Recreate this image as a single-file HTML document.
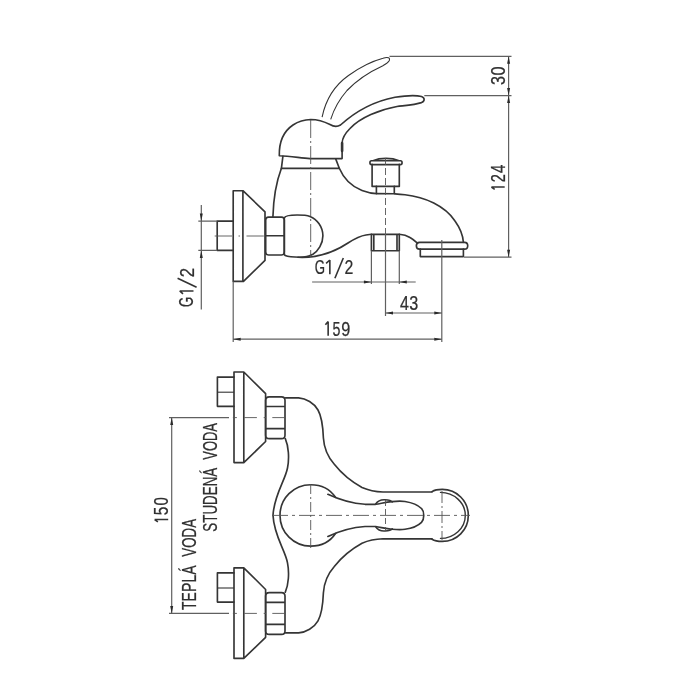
<!DOCTYPE html>
<html><head><meta charset="utf-8">
<style>
html,body{margin:0;padding:0;background:#fff;}
svg{display:block;will-change:transform;}
text{font-family:"Liberation Sans",sans-serif;fill:#303030;stroke:#303030;stroke-width:0.25;font-size:21px;}
.o{fill:none;stroke:#353535;stroke-width:1.65;stroke-linejoin:round;stroke-linecap:round;}
.t{fill:none;stroke:#333;stroke-width:1.1;}
.d{fill:none;stroke:#606060;stroke-width:1.2;}
.c{fill:none;stroke:#555;stroke-width:0.9;}
.a{fill:#2a2a2a;stroke:none;}
.tx{fill:none;stroke:#333;stroke-width:1.6;stroke-linecap:butt;stroke-linejoin:round;}
</style></head>
<body>
<svg width="700" height="700" viewBox="0 0 700 700" xmlns="http://www.w3.org/2000/svg">
<rect width="700" height="700" fill="#fff"/>

<!-- ===== TOP VIEW (elevation) ===== -->
<!-- ghost lever -->
<path class="t" d="M322.1,117.1 C325,103 333,86.5 348.5,75.5 C359,68 371,61.5 383,58.3 C388,56.5 390.5,58 389.2,60.8 C388,63 385,64.5 382.9,65.7 C367,73 355,82 347,90.5 C340,98.5 334,109 330.7,119.3"/>

<!-- dome + lever -->
<path class="o" d="M279.3,155.7 C279,142 284,131 293,125 C299,121 305,119.6 310.7,119.5 C318,119.6 325,122 330,124.5 C333,126.3 337,127 340.5,125 C352,114.5 370,102 395,97.2 C406,95.5 417,95.3 421.5,96.5 C425,97.7 425,101.3 421.5,102.6 C415,104.8 405,105.5 397,106.5 C380,109.5 360,117.5 350,128.5 C345,133.5 342.3,138 342.1,143 L342.1,158.6 L310,158.6 C300,157.8 290,156.2 279.3,155.7 Z"/>
<path class="o" d="M342.1,143 L342.1,151" style="stroke-width:2.6"/>
<!-- collar -->
<path class="o" d="M282.9,156.4 L281.4,168.3 L339.3,168.3 L335.7,158.9"/>
<!-- body left edge -->
<path class="o" d="M281.4,168.3 C277,180 273.5,195 272.9,217"/>
<!-- body right/top spout edge -->
<path class="o" d="M339.3,168.3 C343,177 350,186 362,190.5 C366,192 370,193.4 376.4,193.6 L394.3,193.8 C397,194 400,194.2 405,194.8 C425,197 445,206 455,221 C460,228 463,236 463.4,242.3"/>

<!-- diverter knob -->
<path class="o" d="M371.5,160.7 L400.5,160.7 C402.6,160.7 402.6,164.6 400.5,164.6 L371.5,164.6 C369.4,164.6 369.4,160.7 371.5,160.7 Z M373,160.7 C377,158.9 381,158.3 386,158.3 C391,158.3 395,158.9 399,160.7"/>
<path class="o" d="M372.1,164.4 L372.1,186.4 L399.3,186.4 L399.3,164.4"/>
<path class="o" d="M376.4,186.4 L376.4,193.6 M394.3,186.4 L394.3,193.6"/>

<!-- ball joint -->
<path class="o" d="M284.3,218 C285,215.6 292,215 297.1,215 C303,215 307,215.3 310,216.4 C317,219 322.9,227 322.9,235.7 C322.9,244 318,251 312.9,254.3 C309,256.6 305,257.2 300,257.2 C293,257.2 288,256.8 285.2,255.6 C284.5,255.2 284.3,254.5 284.3,253 Z"/>
<!-- hex nut -->
<path class="o" d="M268.5,217.1 L281.5,217.1 Q284.3,217.1 284.3,220 L284.3,252 Q284.3,255 281.5,255 L268.5,255 Q265.7,255 265.7,252 L265.7,220 Q265.7,217.1 268.5,217.1 Z M265.7,235.7 L284.3,235.7"/>
<!-- flange -->
<path class="o" d="M233.2,190.7 L242.9,190.7 L265,211.8 L265,260.4 L243.5,281.4 L233.2,281.4 Z M242.9,190.7 L242.9,281.4"/>
<!-- pipe stub -->
<path class="o" d="M233.2,221.1 L217.2,221.1 L217.2,250.4 L233.2,250.4"/>

<!-- body bottom curve -->
<path class="o" d="M298,257.3 C316,258.2 333,253 348,243 C355,238.5 361,235.7 366,235 L371.4,234.3"/>
<path class="o" d="M399.3,234.3 C403,234.5 407,235.6 410,237.5 C412.5,239 414.5,240.5 416.5,242.3"/>
<!-- shower outlet -->
<path class="o" d="M371.4,234.3 L399.3,234.3 L399.3,250.7 L371.4,250.7 Z M373.8,234.3 L373.8,250.7 M397,234.3 L397,250.7"/>

<!-- aerator -->
<path class="o" d="M419.5,242.3 L464.5,242.3 C468.8,242.3 468.8,249.1 464.5,249.1 L419.5,249.1 C415.3,249.1 415.3,242.3 419.5,242.3 Z"/>
<path class="o" d="M420.3,249.1 L420.3,256.6 L463.4,256.6 L463.4,249.1"/>

<!-- centerlines -->
<path class="c" d="M310.7,120 L310.7,257" style="stroke-dasharray:18 3 2 3"/>
<path class="c" d="M385.5,158 L385.5,234" style="stroke-dasharray:7 3"/>
<path class="c" d="M214.7,236 L265,236" style="stroke-dasharray:17.3 6.5 1.5 6.5 17.3 10"/>

<!-- dimensions top view -->
<path class="d" d="M389.5,56.3 L511.5,56.3 M424.3,95.6 L511.5,95.6 M464,257.2 L511.5,257.2 M508.6,56.3 L508.6,257.2"/>
<path class="a" d="M508.6,56.3 l-1.5,7.5 l3,0 z M508.6,95.6 l-1.5,-7.5 l3,0 z M508.6,95.6 l-1.5,7.5 l3,0 z M508.6,257.2 l-1.5,-7.5 l3,0 z"/>

<!-- G1/2 left -->
<path class="d" d="M198.3,221.1 L217.2,221.1 M198.3,250.4 L217.2,250.4 M201.3,205 L201.3,309.4"/>
<path class="a" d="M201.3,221.1 l-1.5,-7.5 l3,0 z M201.3,250.4 l-1.5,7.5 l3,0 z"/>

<!-- G1/2 bottom -->
<path class="d" d="M371.4,250.7 L371.4,284 M399.3,250.7 L399.3,284 M312.1,282 L415.7,282"/>
<path class="a" d="M371.4,282 l-7.5,-1.5 l0,3 z M399.3,282 l7.5,-1.5 l0,3 z"/>

<!-- 43 -->
<path class="d" d="M385.5,234 L385.5,316 M441.8,240 L441.8,342 M385.5,313 L441.8,313"/>
<path class="a" d="M385.5,313 l7.5,-1.5 l0,3 z M441.8,313 l-7.5,-1.5 l0,3 z"/>

<!-- 159 -->
<path class="d" d="M233.2,281.4 L233.2,342 M233.2,339.2 L441.8,339.2"/>
<path class="a" d="M233.2,339.2 l7.5,-1.5 l0,3 z M441.8,339.2 l-7.5,-1.5 l0,3 z"/>

<!-- ===== BOTTOM VIEW (plan) ===== -->
<g>
<!-- flange -->
<path class="o" d="M234,372 L243.8,372 L265.6,393.7 L265.6,441.5 L243.8,462.6 L234,462.6 Z M243.8,372 L243.8,462.6"/>
<!-- stub -->
<path class="o" d="M234,377.1 L217.4,377.1 L217.4,406.3 L234,406.3"/>
<path class="t" d="M217.4,392.2 L234,392.2"/>
<!-- nut -->
<path class="o" d="M269.3,396.8 L281.5,396.8 Q285,396.8 285,400.3 L285,435.2 Q285,438.6 281.5,438.6 L269.3,438.6 Q265.6,438.6 265.6,435.2 L265.6,400.3 Q265.6,396.8 269.3,396.8 Z M265.6,406.5 L285,406.5 M265.6,428.6 L285,428.6"/>
</g>
<g transform="translate(0,195.8)">
<!-- flange -->
<path class="o" d="M234,372 L243.8,372 L265.6,393.7 L265.6,441.5 L243.8,462.6 L234,462.6 Z M243.8,372 L243.8,462.6"/>
<!-- stub -->
<path class="o" d="M234,377.1 L217.4,377.1 L217.4,406.3 L234,406.3"/>
<path class="t" d="M217.4,392.2 L234,392.2"/>
<!-- nut -->
<path class="o" d="M269.3,396.8 L281.5,396.8 Q285,396.8 285,400.3 L285,435.2 Q285,438.6 281.5,438.6 L269.3,438.6 Q265.6,438.6 265.6,435.2 L265.6,400.3 Q265.6,396.8 269.3,396.8 Z M265.6,406.5 L285,406.5 M265.6,428.6 L285,428.6"/>
</g>
<path class="d" d="M169,417.6 L229,417.6 M169,613.4 L229,613.4"/>
<path class="c" d="M232.9,417.6 L286,417.6 M232.9,613.4 L286,613.4" style="stroke-dasharray:4 7.4 12.6 6.8 2.3 6.3 12.6 10"/>

<!-- body outline -->
<path class="o" d="M285.5,397.9 L298.6,397.9 C306,398.5 314,403 318,410 C322,417 323,428 323.4,438 C324,448 327,456 334.3,464.3 C342,474 352,482 362,487.5 C369,490.6 376,491.8 383,492 L432,492"/>
<path class="o" d="M285.5,632.9 L298.6,632.9 C306,632.3 314,627.8 318,620.8 C322,613.8 323,602.8 323.4,592.8 C324,582.8 327,574.8 334.3,566.5 C342,556.8 352,548.8 362,543.3 C369,540.2 376,539 383,538.8 L432,538.8"/>
<path class="o" d="M285.3,438.6 C288.5,446 289.5,458 287.5,468 C285,481 274,495 273,515.4 C274,535.8 285,549.8 287.5,562.8 C289.5,572.8 288.5,584.8 285.3,592.2"/>

<!-- lever base circle -->
<path class="o" d="M335.5,497.3 C330,489 320.5,484.7 310.7,484.7 C293.7,484.7 280,498.4 280,515.4 C280,532.4 293.7,546.1 310.7,546.1 C320.5,546.1 330,541.8 335.5,533.5"/>
<!-- lever -->
<path class="o" d="M327.9,494.3 C340,500 352,503.5 365,504.3 L375.7,504.3 C381,503.5 386,502 392,501.6 C397,501.1 401,500.9 405,501.5 C412,502.6 418,505 421.5,508.5 C424.5,511.5 424.5,519.3 421.5,522.3 C418,525.8 412,528.2 405,529.3 C401,529.9 397,529.7 392,529.2 C386,528.8 381,527.3 375.7,526.5 L365,526.5 C352,527.3 340,530.8 327.9,536.5"/>
<path class="o" d="M375.7,504 C378,500.5 382,499.6 385,499.8 C389,500 391.5,501 392.3,502" style="stroke-width:1.6"/>
<path class="o" d="M375.7,526.8 C378,530.3 382,531.2 385,531 C389,530.8 391.5,529.8 392.3,528.8" style="stroke-width:1.6"/>

<!-- spout end arcs -->
<path class="o" d="M432,491.6 C434.5,490 438,489.4 442.3,489.4 C456.7,489.4 468.3,501 468.3,515.4 C468.3,529.8 456.7,541.4 442.3,541.4 C438,541.4 434.5,540.8 432,539.2"/>
<path class="o" d="M440.5,492.4 C454,492.4 465.3,502.7 465.3,515.4 C465.3,528.1 454,538.4 440.5,538.4" style="stroke-width:1.4"/>

<!-- centerlines -->
<path class="c" d="M272,515.4 L470,515.4" style="stroke-dasharray:16 4 3 4"/>
<path class="c" d="M310.7,484 L310.7,548" style="stroke-dasharray:10 3 2 3"/>
<path class="c" d="M442,491 L442,540" style="stroke-dasharray:12 3 2 3"/>
<path class="c" d="M385.5,500 L385.5,531" style="stroke-dasharray:6 3"/>

<!-- 150 dim -->
<path class="d" d="M171.7,417.6 L171.7,613.4"/>
<path class="a" d="M171.7,417.6 l-1.5,7.5 l3,0 z M171.7,613.4 l-1.5,-7.5 l3,0 z"/>

<!-- TEXT -->
<g id="txt">
<text transform="translate(504.90,85.05) rotate(-90) scale(0.814,1)" style="font-size:19.86px">3</text>
<text transform="translate(504.90,75.45) rotate(-90) scale(0.818,1)" style="font-size:19.86px">0</text>
<path class="tx" d="M491.40,187.05 L504.70,187.05 M491.40,187.05 L494.70,189.30"/>
<text transform="translate(504.80,182.33) rotate(-90) scale(0.744,1)" style="font-size:19.57px">2</text>
<text transform="translate(505.00,172.90) rotate(-90) scale(0.749,1)" style="font-size:20.15px">4</text>
<path class="tx" d="M328.15,321.40 L328.15,335.70 M328.15,321.40 L325.40,324.70"/>
<text transform="translate(332.53,335.59) scale(0.679,1)" style="font-size:21.00px">5</text>
<text transform="translate(341.28,335.59) scale(0.787,1)" style="font-size:20.70px">9</text>
<text transform="translate(399.98,309.90) scale(0.792,1)" style="font-size:20.29px">4</text>
<text transform="translate(409.35,309.51) scale(0.832,1)" style="font-size:19.44px">3</text>
<text transform="translate(314.64,274.09) scale(0.643,1)" style="font-size:20.56px">G</text>
<path class="tx" d="M329.85,260.00 L329.85,274.20 M329.85,260.00 L326.10,263.30"/>
<text transform="translate(344.51,274.30) scale(0.761,1)" style="font-size:20.86px">2</text>
<path class="tx" d="M334.9,278.2 L343.3,258"/>
<text transform="translate(193.40,307.05) rotate(-90) scale(0.654,1)" style="font-size:20.00px">G</text>
<path class="tx" d="M179.70,290.95 L193.50,290.95 M179.70,290.95 L183.00,293.90"/>
<text transform="translate(193.60,277.24) rotate(-90) scale(0.825,1)" style="font-size:20.29px">2</text>
<path class="tx" d="M196.6,287.2 L177.6,278.2"/>
<path class="tx" d="M154.60,519.55 L168.20,519.55 M154.60,519.55 L157.90,521.80"/>
<text transform="translate(168.10,515.21) rotate(-90) scale(0.766,1)" style="font-size:20.00px">5</text>
<text transform="translate(168.10,505.50) rotate(-90) scale(0.761,1)" style="font-size:19.72px">0</text>
<text transform="translate(195.81,556.63) rotate(-90) scale(0.690,1)" style="font-size:19.29px">VODA</text>
<text transform="translate(196.00,609.98) rotate(-90) scale(0.730,1)" style="font-size:19.29px">TEPLÁ</text>
<text transform="translate(217.00,459.73) rotate(-90) scale(0.663,1)" style="font-size:19.57px">VODA</text>
<text transform="translate(217.00,531.67) rotate(-90) scale(0.684,1)" style="font-size:19.57px">STUDENÁ</text>
</g>
</svg>
</body></html>
